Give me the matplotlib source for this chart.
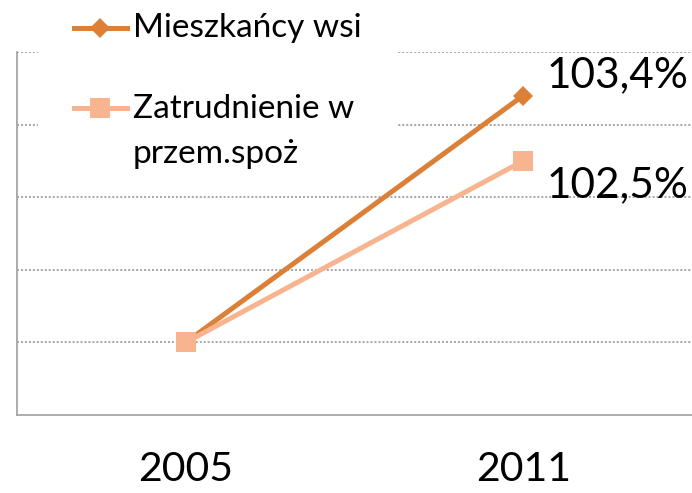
import numpy as np
from matplotlib import pyplot as plt
from matplotlib.patches import Rectangle
from matplotlib.lines import Line2D

# chart data
years = ['2005', '2011']
series_names = ['Mieszkańcy wsi', 'Zatrudnienie w\nprzem.spoż']
wies = [100.0, 103.4]
zatrudnienie = [100.0, 102.5]
end_labels = ['103,4%', '102,5%']

colors = ['#DC8038', '#F7B48E']
markers = ['D', 's']
msizes = [10.5, 15]

plt.rcParams['font.family'] = ['Lato', 'DejaVu Sans']

W, H = 692, 493
fig = plt.figure(figsize=(W / 100, H / 100), dpi=100)
# axes box in pixels: left 17, right 692, top 52, bottom 415
ax = fig.add_axes([17 / W, 1 - 415 / H, (692 - 17) / W, (415 - 52) / H])

x = np.arange(len(years))
values = [wies, zatrudnienie]
for i, vals in enumerate(values):
    ax.plot(x, vals, color=colors[i], lw=3.6, marker=markers[i],
            markersize=msizes[i], markeredgewidth=0, zorder=3 + i)

# value labels at the end points
ax.annotate(end_labels[0], (x[-1], wies[-1]), xytext=(17, 6), textcoords='offset points',
            fontsize=30.5, va='baseline', ha='left')
ax.annotate(end_labels[1], (x[-1], zatrudnienie[-1]), xytext=(17, -26), textcoords='offset points',
            fontsize=30.5, va='baseline', ha='left')

ax.set_xlim(-0.5, 1.5)
ax.set_ylim(99, 104)
ax.set_xticks(x)
ax.set_xticklabels(years, fontsize=29.5)
ax.set_yticks([100, 101, 102, 103, 104])
ax.set_yticklabels([])
ax.tick_params(axis='both', length=0)
ax.tick_params(axis='x', pad=26)
ax.grid(axis='y', color='#8f8f8f', lw=1.1, linestyle=(0, (1.3, 1.3)))
ax.set_axisbelow(True)
for s in ['top', 'right']:
    ax.spines[s].set_visible(False)
for s in ['left', 'bottom']:
    ax.spines[s].set_color('#a6a6a6')
    ax.spines[s].set_linewidth(1.3)

# legend drawn by hand (box hides the grid behind it)
def fx(px):
    return px / W

def fy(py):
    return 1 - py / H

fig.patches.append(Rectangle((fx(38), fy(172)), fx(398) - fx(38), fy(0) - fy(172),
                             transform=fig.transFigure, facecolor='white', edgecolor='none', zorder=5))
leg_y = [28, 108]
leg_base = [37, 118]
for i, name in enumerate(series_names):
    fig.lines.append(Line2D([fx(74), fx(127)], [fy(leg_y[i]), fy(leg_y[i])], transform=fig.transFigure,
                            color=colors[i], lw=3.6, zorder=6))
    fig.lines.append(Line2D([fx(100)], [fy(leg_y[i])], transform=fig.transFigure, color=colors[i],
                            marker=markers[i], markersize=msizes[i], markeredgewidth=0, zorder=7))
    lines = name.split('\n')
    for j, line in enumerate(lines):
        fig.text(fx(133), fy(leg_base[i] + 45 * j), line, fontsize=24, va='baseline', ha='left',
                 zorder=8)

fig.savefig('out.png', dpi=100)
